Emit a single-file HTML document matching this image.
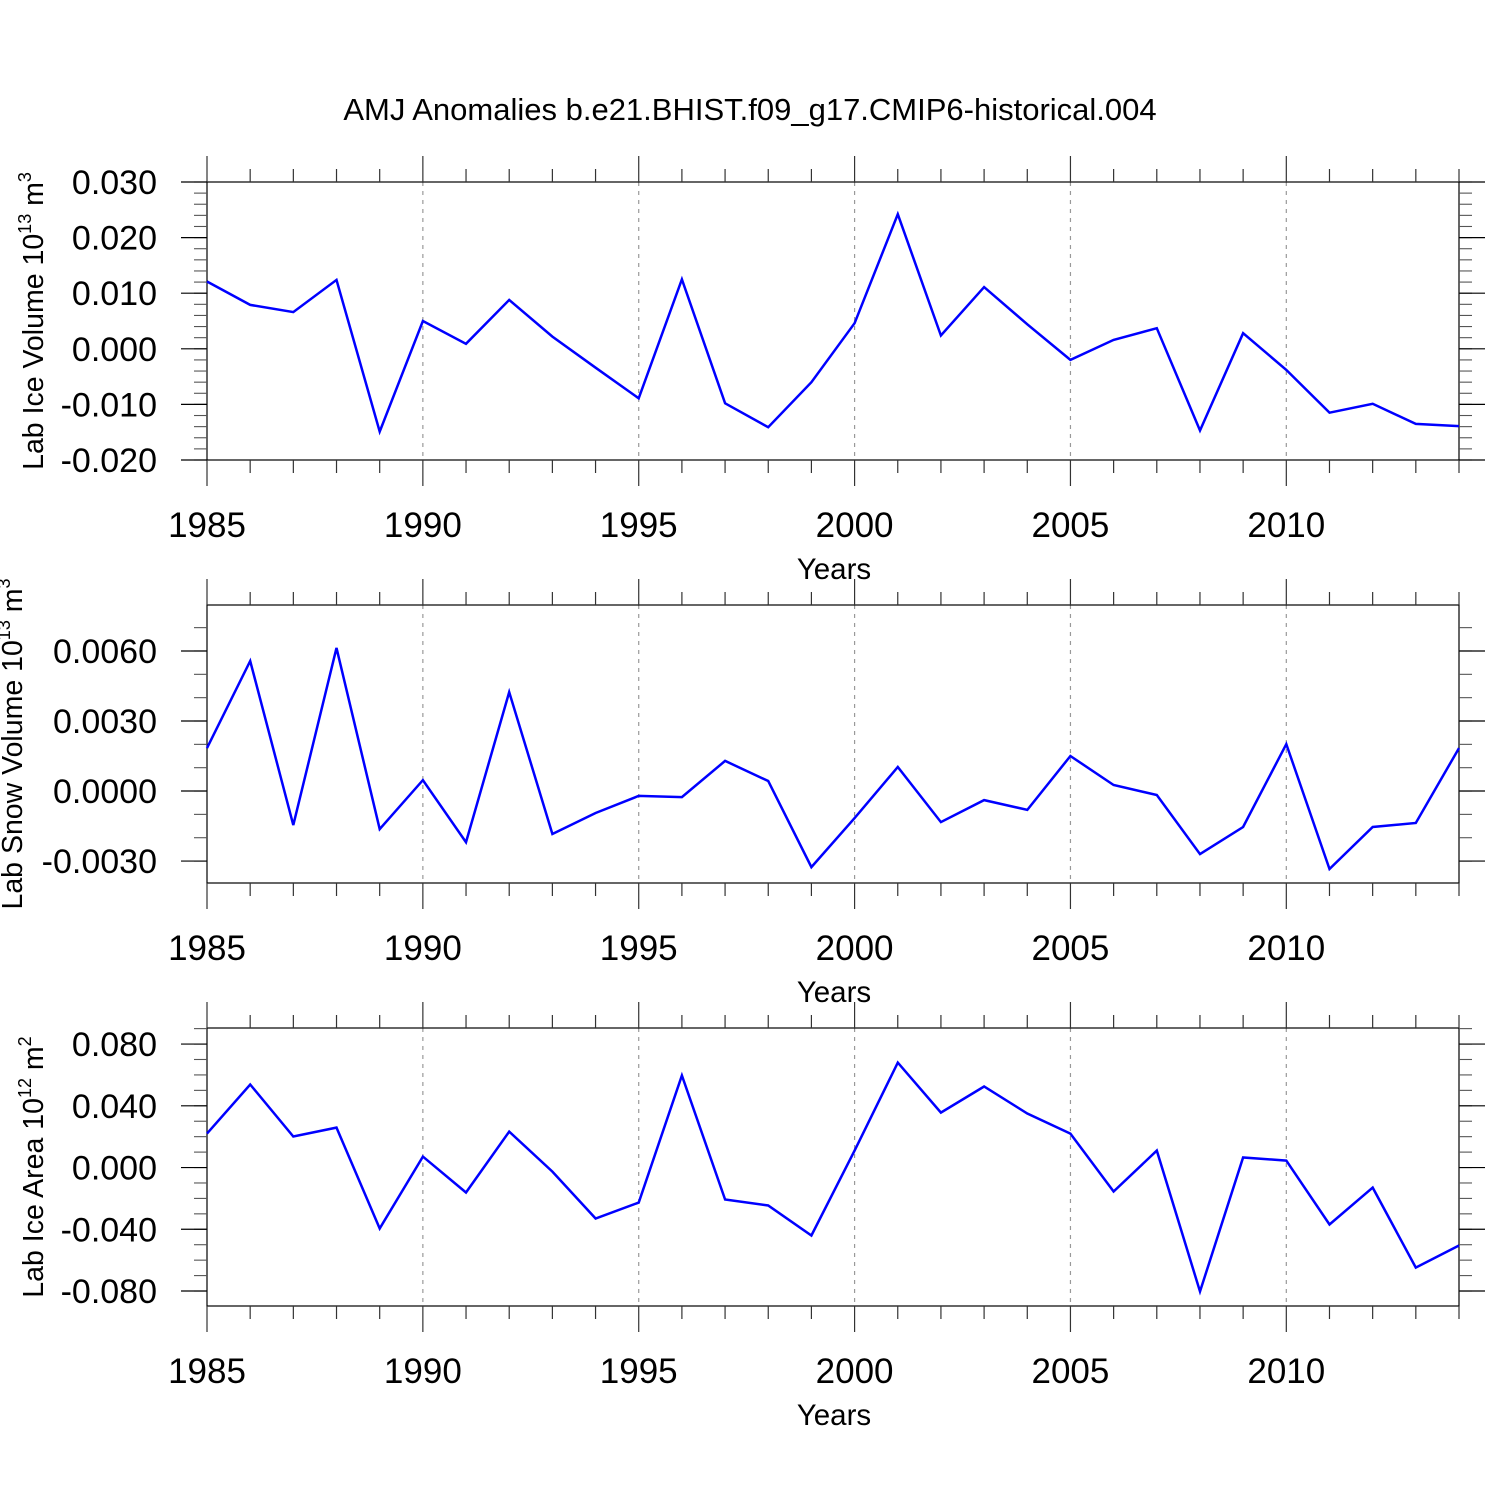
<!DOCTYPE html>
<html><head><meta charset="utf-8"><style>
html,body{margin:0;padding:0;background:#fff;}
svg{display:block;font-family:"Liberation Sans",sans-serif;}
</style></head><body>
<svg id="chart" width="1500" height="1500" viewBox="0 0 1500 1500" xmlns="http://www.w3.org/2000/svg">
<rect width="1500" height="1500" fill="#fff"/>
<text x="750" y="120" font-size="31" text-anchor="middle">AMJ Anomalies b.e21.BHIST.f09_g17.CMIP6-historical.004</text>
</svg>
<script>
const years = [1985,1986,1987,1988,1989,1990,1991,1992,1993,1994,1995,1996,1997,1998,1999,2000,2001,2002,2003,2004,2005,2006,2007,2008,2009,2010,2011,2012,2013,2014];
const iceVolume = [0.0121,0.0079,0.0066,0.0124,-0.0149,0.0050,0.0009,0.0088,0.0022,-0.0034,-0.0089,0.0125,-0.0098,-0.0141,-0.0060,0.0046,0.0242,0.0024,0.0111,0.0044,-0.0020,0.0016,0.0037,-0.0147,0.0028,-0.0038,-0.0115,-0.0099,-0.0135,-0.0139];
const snowVolume = [0.00184,0.00557,-0.00146,0.00613,-0.00163,0.00047,-0.00219,0.00424,-0.00184,-0.00094,-0.00021,-0.00026,0.00129,0.00043,-0.00326,-0.00116,0.00103,-0.00133,-0.00039,-0.00081,0.0015,0.00026,-0.00017,-0.0027,-0.00154,0.00201,-0.00334,-0.00154,-0.00137,0.00184];
const iceArea = [0.0220,0.0538,0.0201,0.0259,-0.0395,0.0071,-0.0162,0.0233,-0.0026,-0.0330,-0.0227,0.0596,-0.0207,-0.0246,-0.0440,0.0110,0.0680,0.0356,0.0525,0.0350,0.0220,-0.0155,0.0110,-0.0803,0.0065,0.0045,-0.0369,-0.0130,-0.0648,-0.0505];
const xTickYears = [1985,1990,1995,2000,2005,2010];
const iceVolTicks = [-0.02,-0.01,0,0.01,0.02,0.03];
const iceVolLabels = ["-0.020","-0.010","0.000","0.010","0.020","0.030"];
const snowTicks = [-0.003,0,0.003,0.006];
const snowLabels = ["-0.0030","0.0000","0.0030","0.0060"];
const areaTicks = [-0.08,-0.04,0,0.04,0.08];
const areaLabels = ["-0.080","-0.040","0.000","0.040","0.080"];

const svg = document.getElementById('chart');
const NS = 'http://www.w3.org/2000/svg';
function mk(tag, attrs, parent){const e=document.createElementNS(NS,tag);for(const k in attrs)e.setAttribute(k,attrs[k]);(parent||svg).appendChild(e);return e;}
const X0=207,X1=1459;
const xs = y => X0 + (y-1985)/(2014-1985)*(X1-X0);

function panel(name, top, ymin, ymax, data, ticks, labels, minorStep, title, sup, unit, titleX){
  const bot = top+278;
  const g = mk('g',{});
  
  
  const ys = v => bot - (v-ymin)/(ymax-ymin)*(bot-top);
  xTickYears.slice(1).forEach(yr=>{
    const l=mk('line',{x1:xs(yr),x2:xs(yr),y1:top,y2:bot,stroke:'#999','stroke-width':1.2,'stroke-dasharray':'4,5'},g);
    
    
  });
  const fr=mk('rect',{x:X0,y:top,width:X1-X0,height:bot-top,fill:'none',stroke:'#000','stroke-width':1.2},g);
  
  
  years.forEach(yr=>{
    const len = xTickYears.includes(yr)?26:13;
    mk('line',{x1:xs(yr),x2:xs(yr),y1:bot,y2:bot+len,stroke:'#333','stroke-width':1.2},g);
    mk('line',{x1:xs(yr),x2:xs(yr),y1:top-len,y2:top,stroke:'#333','stroke-width':1.2},g);
  });
  xTickYears.forEach(yr=>{
    const t=mk('text',{x:xs(yr),y:bot+77,'font-size':35,'text-anchor':'middle'},g);
    t.textContent=yr;
    
    
  });
  const xt=mk('text',{x:834,y:bot+119,'font-size':29.5,'text-anchor':'middle'},g);
  xt.textContent='Years';
  
  
  for(let v=Math.ceil(ymin/minorStep)*minorStep; v<=ymax+1e-12; v+=minorStep){
    const y=ys(v);
    mk('line',{x1:X0-13,x2:X0,y1:y,y2:y,stroke:'#555','stroke-width':1.1},g);
    mk('line',{x1:X1,x2:X1+13,y1:y,y2:y,stroke:'#555','stroke-width':1.1},g);
  }
  ticks.forEach((v,i)=>{
    const y=ys(v);
    mk('line',{x1:X0-26,x2:X0,y1:y,y2:y,stroke:'#000','stroke-width':1.2},g);
    mk('line',{x1:X1,x2:X1+26,y1:y,y2:y,stroke:'#000','stroke-width':1.2},g);
    const t=mk('text',{x:157,y:y+12,'font-size':34,'text-anchor':'end'},g);
    t.textContent=labels[i];
    
    
  });
  const cy=(top+bot)/2;
  const yt=mk('text',{x:0,y:0,'font-size':28.5,'text-anchor':'middle',transform:`translate(${titleX},${cy}) rotate(-90)`},g);
  
  
  yt.appendChild(document.createTextNode(title+' 10'));
  const s=document.createElementNS(NS,'tspan');s.setAttribute('font-size','18');s.setAttribute('dy','-12');s.textContent=sup;yt.appendChild(s);
  const s2=document.createElementNS(NS,'tspan');s2.setAttribute('dy','12');s2.textContent=' m';yt.appendChild(s2);
  const s3=document.createElementNS(NS,'tspan');s3.setAttribute('font-size','18');s3.setAttribute('dy','-12');s3.textContent=unit;yt.appendChild(s3);
  const pts=data.map((v,i)=>xs(years[i]).toFixed(1)+','+ys(v).toFixed(1)).join(' ');
  const pl=mk('polyline',{points:pts,fill:'none',stroke:'#0000ff','stroke-width':2.5,'stroke-linejoin':'miter'},g);
  
  
}
panel('ice-volume',182,-0.02,0.03,iceVolume,iceVolTicks,iceVolLabels,0.002,'Lab Ice Volume','13','3',43);
panel('snow-volume',605,-0.00394,0.00797,snowVolume,snowTicks,snowLabels,0.001,'Lab Snow Volume','13','3',22);
panel('ice-area',1028,-0.0897,0.0904,iceArea,areaTicks,areaLabels,0.01,'Lab Ice Area','12','2',43);
</script>
</body></html>
